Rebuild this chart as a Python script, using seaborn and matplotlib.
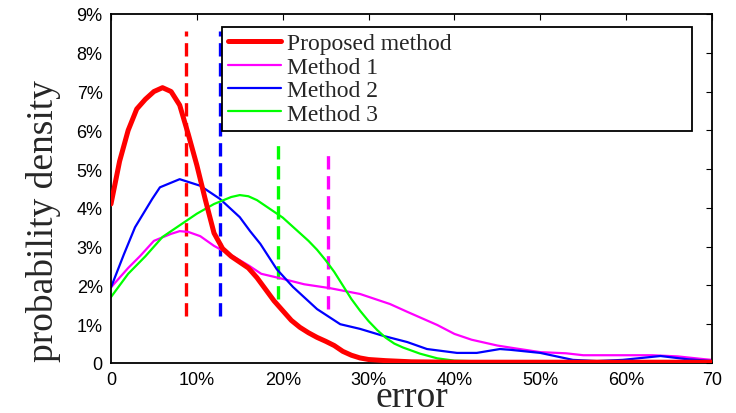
import matplotlib
matplotlib.use("Agg")
import matplotlib.pyplot as plt
import pandas as pd
import seaborn as sns

# --- data (error in %, density in %) ---
methods = ["Proposed method", "Method 1", "Method 2", "Method 3"]
colors = ["#ff0000", "#ff00ff", "#0000ff", "#00ff00"]

proposed_x = [0, 1, 2, 3, 4, 5, 6, 7, 8, 9, 10, 11, 12, 13, 14, 15, 16, 17, 18, 19, 20,
              21, 22, 23, 24, 25, 26, 27, 28, 29, 30, 32, 35, 40, 50, 60, 70]
proposed_y = [4.1, 5.2, 6.0, 6.55, 6.8, 7.0, 7.1, 7.0, 6.65, 5.9, 5.1, 4.2, 3.35, 2.95, 2.75,
              2.6, 2.45, 2.2, 1.9, 1.6, 1.35, 1.1, 0.92, 0.78, 0.66, 0.56, 0.45, 0.3, 0.2,
              0.13, 0.09, 0.06, 0.03, 0.02, 0.02, 0.02, 0.02]

m1_x = [0, 2, 3.4, 5, 7, 8, 9, 10.4, 12, 14, 16, 17.5, 20, 22.5, 25.5, 29, 32.5, 34.5,
        38, 40, 42, 45, 47, 50, 53, 55, 60, 63, 66, 69, 70]
m1_y = [1.95, 2.45, 2.76, 3.15, 3.33, 3.4, 3.38, 3.27, 3.02, 2.78, 2.52, 2.3, 2.17, 2.03,
        1.93, 1.78, 1.52, 1.32, 0.98, 0.75, 0.6, 0.45, 0.38, 0.28, 0.25, 0.2, 0.2, 0.2,
        0.17, 0.1, 0.08]

m2_x = [0, 1.5, 2.8, 4.8, 5.7, 8, 10.4, 12.7, 15, 16.2, 17.4, 19.3, 21.2, 24, 26.7, 29,
        31.7, 34.5, 36.8, 40.3, 42.6, 45.3, 46.5, 50, 53.8, 56.6, 59.6, 64, 67, 70]
m2_y = [1.95, 2.8, 3.5, 4.23, 4.53, 4.74, 4.57, 4.23, 3.76, 3.4, 3.07, 2.42, 1.96, 1.39,
        1.0, 0.88, 0.7, 0.54, 0.36, 0.26, 0.26, 0.36, 0.34, 0.26, 0.08, 0.05, 0.08,
        0.18, 0.1, 0.05]

m3_x = [0, 2, 4, 6, 8, 10, 12, 14, 15, 16, 17, 18, 19, 20, 21, 22, 23, 24, 25, 26, 27,
        28, 29, 30, 31, 32, 33, 34, 35, 36, 38, 40, 45, 50, 60, 70]
m3_y = [1.7, 2.3, 2.75, 3.25, 3.55, 3.85, 4.1, 4.28, 4.33, 4.3, 4.2, 4.05, 3.9, 3.75,
        3.55, 3.35, 3.15, 2.92, 2.65, 2.35, 2.0, 1.65, 1.35, 1.08, 0.85, 0.65, 0.5, 0.4,
        0.32, 0.24, 0.12, 0.06, 0.03, 0.03, 0.03, 0.02]

# mean error markers (dashed verticals)
mark_x = [8.7, 25.3, 12.7, 19.45]
mark_top = [8.56, 5.47, 8.56, 5.78]
mark_bottom = [1.2, 1.39, 1.2, 1.65]

xticks = [0, 10, 20, 30, 40, 50, 60, 70]
xtick_labels = ["0", "10%", "20%", "30%", "40%", "50%", "60%", "70"]
yticks = [0, 1, 2, 3, 4, 5, 6, 7, 8, 9]
ytick_labels = ["0"] + [f"{v}%" for v in yticks[1:]]

series = [(proposed_x, proposed_y), (m1_x, m1_y), (m2_x, m2_y), (m3_x, m3_y)]
frames = []
for name, (xs, ys) in zip(methods, series):
    frames.append(pd.DataFrame({"error": xs, "density": ys, "method": name}))
df = pd.concat(frames, ignore_index=True)

sns.set_style("white")
plt.rcParams["font.family"] = ["Liberation Sans", "DejaVu Sans"]

fig = plt.figure(figsize=(7.36, 4.14), dpi=100)
ax = fig.add_axes([0.1508, 0.1208, 0.8166, 0.843])

widths = [3.6, 1.6, 1.6, 1.6]
for name, col, lw in zip(methods, colors, widths):
    sns.lineplot(data=df[df["method"] == name], x="error", y="density", color=col,
                 linewidth=lw, label=name, ax=ax, sort=False, zorder=3 if lw > 2 else 2)

# dashed vertical markers
for xv, top, bot, col in zip(mark_x, mark_top, mark_bottom, colors):
    ax.vlines(xv, bot, top, colors=col, linestyles=(0, (4, 2)), linewidth=2.4, zorder=1)

ax.set_xlim(0, 70)
ax.set_ylim(0, 9)
ax.set_xticks(xticks)
ax.set_xticklabels(xtick_labels)
ax.set_yticks(yticks)
ax.set_yticklabels(ytick_labels)
ax.tick_params(direction="in", length=4, width=0.8, labelsize=13, colors="black",
               top=True, right=True, pad=6)

for sp in ax.spines.values():
    sp.set_visible(True)
    sp.set_color("black")
    sp.set_linewidth(1.3)

ax.set_xlabel("error", family="Liberation Serif", fontsize=27, labelpad=-6)
ax.set_ylabel("probability density", family="Liberation Serif", fontsize=27)
ax.yaxis.set_label_coords(-0.083, 0.41)

leg = ax.legend(loc="upper left", bbox_to_anchor=(0.1847, 0.6705, 0.782, 0.2923),
                mode="expand", frameon=True, fancybox=False, framealpha=1,
                edgecolor="black", prop={"family": "Liberation Serif", "size": 17},
                handlelength=2.25, handletextpad=0.25, labelspacing=0.08,
                borderpad=0.25, borderaxespad=0)
leg.get_frame().set_linewidth(1.3)

fig.savefig("out.png", dpi=100)
